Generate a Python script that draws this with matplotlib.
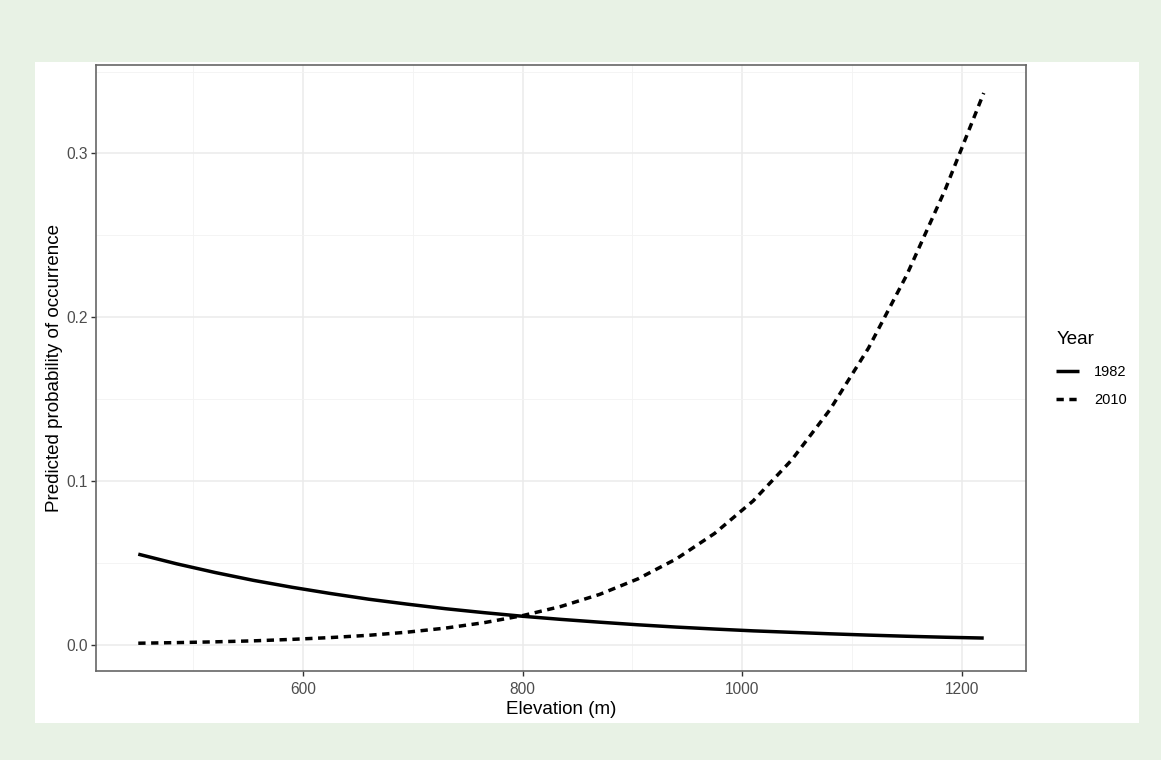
import matplotlib
matplotlib.use("Agg")
import matplotlib.pyplot as plt
from matplotlib.patches import Rectangle
from matplotlib.ticker import MultipleLocator

plt.rcParams["font.family"] = ["Liberation Sans", "DejaVu Sans"]

elevation = [450, 485, 520, 555, 590, 625, 660, 695, 730, 765, 800, 835,
             870, 905, 940, 975, 1010, 1045, 1080, 1115, 1150, 1185, 1220]
p_1982 = [0.0555, 0.0496, 0.0443, 0.0395, 0.0353, 0.0315, 0.0280, 0.0250,
          0.0222, 0.0198, 0.0176, 0.0157, 0.0140, 0.0124, 0.0110, 0.0098,
          0.0087, 0.0078, 0.0069, 0.0061, 0.0054, 0.0048, 0.0043]
p_2010 = [0.00115, 0.00152, 0.0020, 0.0026, 0.0035, 0.0046, 0.0060, 0.0079,
          0.0104, 0.0137, 0.0180, 0.0236, 0.0309, 0.0404, 0.0526, 0.0682,
          0.0880, 0.1129, 0.1437, 0.1812, 0.2260, 0.2781, 0.3369]
years = ["1982", "2010"]

W, H = 1161, 760
fig = plt.figure(figsize=(W / 100, H / 100), dpi=100)
fig.patch.set_facecolor("#e8f2e5")
fig.patches.append(Rectangle((35 / W, 1 - 723 / H), (1139 - 35) / W, (723 - 62) / H,
                             transform=fig.transFigure, facecolor="white",
                             edgecolor="none", zorder=-10))

ax = fig.add_axes([96 / W, 1 - 671 / H, (1026 - 96) / W, (671 - 65) / H])
ax.set_facecolor("white")

ax.plot(elevation, p_1982, color="black", lw=2.5, solid_capstyle="butt", label=years[0])
ax.plot(elevation, p_2010, color="black", lw=2.5, dashes=(2.1, 1.6), label=years[1])

ax.set_xlim(411.5, 1258.5)
ax.set_ylim(-0.0158, 0.354)
ax.xaxis.set_major_locator(MultipleLocator(200))
ax.xaxis.set_minor_locator(MultipleLocator(100))
ax.yaxis.set_major_locator(MultipleLocator(0.1))
ax.yaxis.set_minor_locator(MultipleLocator(0.05))
ax.yaxis.set_major_formatter(plt.FuncFormatter(lambda v, p: f"{v:.1f}"))
ax.xaxis.set_major_formatter(plt.FuncFormatter(lambda v, p: f"{v:.0f}"))

ax.grid(which="major", color="#ebebeb", lw=1.1)
ax.grid(which="minor", color="#f3f3f3", lw=0.6)
ax.set_axisbelow(True)
ax.tick_params(which="major", length=3.5, width=1, color="#333333",
               labelcolor="#4d4d4d", labelsize=11.2, pad=2.5)
ax.tick_params(axis="x", which="major", pad=4.5)
ax.tick_params(which="minor", length=0)
for s in ax.spines.values():
    s.set_color("#666666")
    s.set_linewidth(1.2)

ax.set_xlabel("Elevation (m)", fontsize=13.5, labelpad=2.5)
ax.set_ylabel("Predicted probability of occurrence", fontsize=13.5, labelpad=2.5)

leg = fig.legend(loc="upper left", bbox_to_anchor=(1043 / W, 1 - 318 / H),
                 title="Year", frameon=False, fontsize=10.5, title_fontsize=13.5,
                 handlelength=1.6, handletextpad=1.0, labelspacing=0.95)
leg._legend_box.align = "left"
leg._legend_box.sep = 12

fig.savefig("out.png", dpi=100, facecolor=fig.get_facecolor())
